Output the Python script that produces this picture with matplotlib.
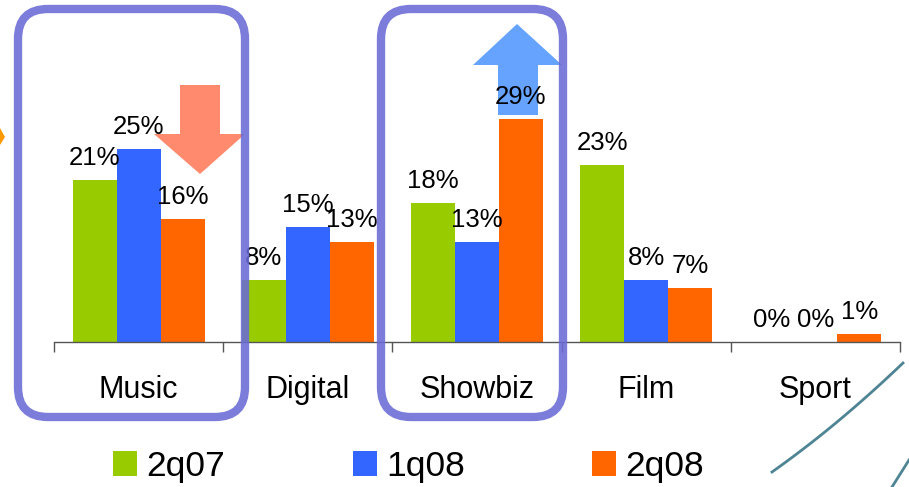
import matplotlib
matplotlib.use("Agg")
import matplotlib.pyplot as plt
import numpy as np
from matplotlib.patches import FancyBboxPatch, Polygon, Patch
from matplotlib.lines import Line2D
from matplotlib.transforms import Affine2D

plt.rcParams['font.family'] = ['Liberation Sans', 'DejaVu Sans']

categories = ["Music", "Digital", "Showbiz", "Film", "Sport"]
series_names = ["2q07", "1q08", "2q08"]
v_2q07 = [21, 8, 18, 23, 0]
v_1q08 = [25, 15, 13, 8, 0]
v_2q08 = [16, 13, 29, 7, 1]
colors = ["#99CC00", "#3366FF", "#FF6600"]

W, H = 909, 487
fig = plt.figure(figsize=(W / 100, H / 100), dpi=100)
# axes: x from 54 to 900 px, baseline at 342 px from top
ax = fig.add_axes([54 / W, (H - 342) / H, 846 / W, 342 / H])
ax.set_xlim(-0.5, 4.5)
ax.set_ylim(0, 342 / 7.7)

x = np.arange(len(categories))
bw = 0.26
for i, (vals, c) in enumerate(zip([v_2q07, v_1q08, v_2q08], colors)):
    pos = x + (i - 1) * bw
    ax.bar(pos, vals, width=bw, color=c, label=series_names[i], zorder=2)
    for p, v in zip(pos, vals):
        ax.annotate(f"{v}%", (p, v), xytext=(0, 10.8), textcoords="offset points",
                    ha="center", va="baseline", fontsize=18.5, color="black", zorder=5)

for s in ["top", "right", "left"]:
    ax.spines[s].set_visible(False)
ax.spines["bottom"].set_color("#555555")
ax.spines["bottom"].set_linewidth(1.0)
ax.set_yticks([])
ax.set_xticks(np.arange(-0.5, 5.0, 1.0))
ax.set_xticklabels([])
ax.tick_params(axis="x", which="major", direction="out", length=7.2, width=1.0, color="#555555")
ax.set_xticks(x, labels=categories, minor=True)
ax.tick_params(axis="x", which="minor", length=0, pad=24, labelsize=22)

# pixel-coordinate transform (origin top-left)
pix = Affine2D().scale(1 / W, -1 / H).translate(0, 1) + fig.transFigure

# down arrow (salmon)
down = Polygon([(180, 85), (220, 85), (220, 134), (245, 134), (200, 174), (154, 134), (180, 134)],
               closed=True, transform=pix, facecolor="#FF8A6E", edgecolor="none", zorder=4,
               clip_on=False)
ax.add_patch(down)
# up arrow (light blue)
up = Polygon([(498, 115), (538, 115), (538, 65), (562, 65), (517, 24), (473, 65), (498, 65)],
             closed=True, transform=pix, facecolor="#66A3FF", edgecolor="none", zorder=4,
             clip_on=False)
ax.add_patch(up)

# rounded highlight boxes
for (x0, x1) in [(18, 245), (381, 563)]:
    box = FancyBboxPatch((x0, 9), x1 - x0, 408, boxstyle="round,pad=0,rounding_size=30",
                         transform=pix, fill=False, edgecolor="#6a6ad6", linewidth=6.0,
                         alpha=0.88, zorder=10)
    fig.add_artist(box)

# small orange mark at left edge
fig.add_artist(Polygon([(0, 128), (5, 137), (0, 145)], closed=True, transform=pix,
                       facecolor="#FF9900", edgecolor="none"))

# decorative curves bottom right
t = np.linspace(0, 1, 30)
cx = 772 + (903 - 772) * t
cy = 472 - (472 - 363) * (t * 0.85 + 0.15 * t ** 2)
fig.add_artist(Line2D(cx, cy, transform=pix, color="#2f6f80", linewidth=2.0, alpha=0.85))
fig.add_artist(Line2D([892, 909], [487, 460], transform=pix, color="#2f6f80", linewidth=2.0, alpha=0.85))

handles = [Patch(facecolor=c, edgecolor="none") for c in colors]
fig.legend(handles, series_names, loc="center left", bbox_to_anchor=(113 / W, 1 - 466.5 / H),
           ncol=3, frameon=False, fontsize=25.5, handlelength=0.68, handleheight=0.68,
           handletextpad=0.26, columnspacing=3.6, borderpad=0, borderaxespad=0)

fig.savefig("out.png", dpi=100)
